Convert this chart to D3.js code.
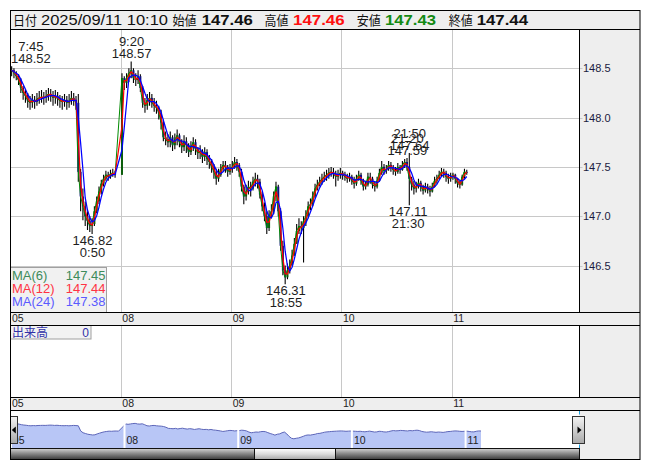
<!DOCTYPE html>
<html><head><meta charset="utf-8">
<script src="https://cdn.jsdelivr.net/npm/d3@7"></script>
<style>
html,body{margin:0;padding:0;background:#fff;}
svg{display:block;}
text{font-family:"Liberation Sans",Arial,sans-serif;}
.jp{font-family:"Noto Sans CJK JP","Noto Sans",sans-serif;}
</style></head><body>
<svg id="c" width="653" height="470"></svg>
<script>
// ---------------- DATA ----------------
const days = ["05","08","09","10","11"];
const barsPerDay = 48;          // 30-minute bars starting at 07:00
const barMinutes = 30, baseMinutes = 5;

const close05 = [148.48,148.45,148.42,148.38,148.30,148.25,148.22,148.17,148.15,148.18,148.16,148.19,148.20,148.21,148.20,148.22,148.24,148.23,148.20,148.22,148.19,148.17,148.16,148.18,148.15,148.17,148.20,148.18,148.15,147.45,147.20,147.10,147.00,146.95,146.90,146.92,147.05,147.15,147.25,147.33,147.38,147.42,147.40,147.43,147.44,147.42];
const high05  = [148.52,148.50,148.47,148.44,148.40,148.32,148.28,148.25,148.22,148.24,148.22,148.25,148.27,148.28,148.26,148.28,148.30,148.29,148.27,148.28,148.26,148.23,148.22,148.24,148.22,148.24,148.27,148.25,148.22,148.24,147.48,147.28,147.15,147.05,147.00,146.98,147.10,147.20,147.30,147.37,147.42,147.46,147.45,147.47,147.48,147.46];
const low05   = [148.42,148.40,148.38,148.33,148.25,148.18,148.15,148.10,148.08,148.10,148.09,148.12,148.14,148.15,148.13,148.15,148.17,148.16,148.12,148.14,148.12,148.10,148.08,148.11,148.08,148.10,148.13,148.12,148.08,147.35,147.05,146.96,146.90,146.86,146.84,146.82,146.90,147.03,147.12,147.22,147.30,147.36,147.36,147.38,147.40,147.39];

const close08 = [148.40,148.35,148.40,148.45,148.48,148.40,148.38,148.42,148.30,148.15,148.12,148.18,148.20,148.15,148.12,148.10,148.05,147.95,147.80,147.78,147.75,147.80,147.72,147.78,147.82,147.75,147.70,147.76,147.72,147.65,147.70,147.75,147.68,147.64,147.66,147.60,147.65,147.58,147.55,147.50,147.45,147.38,147.42,147.48,147.52,147.50,147.45,147.48];
const high08  = [148.45,148.42,148.45,148.50,148.57,148.50,148.45,148.48,148.44,148.32,148.20,148.24,148.26,148.24,148.20,148.17,148.12,148.08,147.98,147.86,147.83,147.86,147.82,147.84,147.88,147.84,147.78,147.82,147.80,147.74,147.76,147.80,147.78,147.70,147.72,147.68,147.70,147.68,147.62,147.58,147.53,147.48,147.48,147.53,147.56,147.56,147.52,147.53];
const low08   = [147.42,148.28,148.30,148.36,148.40,148.35,148.32,148.34,148.26,148.10,148.05,148.08,148.12,148.10,148.06,148.04,147.98,147.88,147.76,147.72,147.70,147.70,147.66,147.68,147.72,147.70,147.64,147.66,147.64,147.60,147.62,147.66,147.62,147.58,147.58,147.54,147.56,147.52,147.48,147.44,147.38,147.32,147.35,147.40,147.45,147.44,147.40,147.42];

const close09 = [147.50,147.55,147.52,147.45,147.30,147.20,147.25,147.30,147.28,147.35,147.38,147.35,147.22,147.10,147.00,146.88,147.00,147.05,147.20,147.30,147.05,146.70,146.45,146.38,146.45,146.50,146.60,146.72,146.85,146.90,146.88,146.95,147.00,147.10,147.12,147.20,147.28,147.32,147.35,147.38,147.40,147.42,147.44,147.45,147.43,147.40,147.42,147.44];
const high09  = [147.56,147.60,147.58,147.54,147.48,147.32,147.32,147.36,147.35,147.40,147.44,147.42,147.38,147.25,147.14,147.05,147.06,147.12,147.25,147.35,147.32,147.08,146.75,146.50,146.52,146.56,146.66,146.78,146.92,146.98,146.95,147.00,147.06,147.15,147.18,147.25,147.33,147.37,147.40,147.43,147.45,147.47,147.49,147.50,147.49,147.46,147.47,147.49];
const low09   = [147.44,147.48,147.46,147.40,147.25,147.12,147.16,147.22,147.20,147.26,147.30,147.28,147.18,147.05,146.95,146.82,146.85,146.98,147.02,147.15,147.00,146.65,146.40,146.31,146.36,146.42,146.52,146.62,146.72,146.82,146.82,146.53,146.90,146.98,147.06,147.10,147.18,147.26,147.30,147.32,147.35,147.36,147.38,147.40,147.38,147.30,147.36,147.38];

const close10 = [147.42,147.40,147.38,147.40,147.36,147.33,147.38,147.42,147.36,147.30,147.32,147.40,147.38,147.32,147.30,147.36,147.44,147.50,147.46,147.48,147.52,147.50,147.47,147.45,147.50,147.47,147.52,147.55,147.50,147.38,147.32,147.28,147.30,147.34,147.30,147.26,147.30,147.28,147.25,147.30,147.36,147.38,147.42,147.45,147.44,147.40,147.38,147.40];
const high10  = [147.46,147.45,147.43,147.44,147.42,147.40,147.42,147.46,147.44,147.38,147.36,147.44,147.44,147.40,147.35,147.40,147.48,147.56,147.53,147.52,147.56,147.55,147.52,147.50,147.54,147.52,147.56,147.58,147.59,147.64,147.40,147.36,147.35,147.38,147.36,147.32,147.34,147.33,147.31,147.34,147.40,147.42,147.46,147.49,147.48,147.46,147.43,147.44];
const low10   = [147.37,147.36,147.34,147.35,147.32,147.28,147.31,147.36,147.32,147.26,147.27,147.30,147.33,147.28,147.25,147.28,147.35,147.42,147.42,147.43,147.46,147.45,147.42,147.41,147.43,147.43,147.46,147.49,147.46,147.11,147.26,147.22,147.24,147.28,147.25,147.22,147.24,147.23,147.20,147.24,147.29,147.33,147.37,147.40,147.39,147.35,147.33,147.35];

const close11 = [147.42,147.38,147.33,147.32,147.40,147.45,147.44];
const high11  = [147.44,147.43,147.39,147.36,147.42,147.48,147.47];
const low11   = [147.37,147.33,147.29,147.28,147.31,147.38,147.42];

const yTicks = [146.5,147.0,147.5,148.0,148.5];

const maPeriods = [6,12,24];
const maNames = ["MA(6)","MA(12)","MA(24)"];
const maValues = ["147.45","147.44","147.38"];

const headerLabels = ["日付","始値","高値","安値","終値"];
const headerValues = ["2025/09/11 10:10","147.46","147.46","147.43","147.44"];

const annTimes  = ["7:45","0:50","9:20","18:55","21:50","21:20","21:30"];
const annPrices = [148.52,146.82,148.57,146.31,147.64,147.59,147.11];
const annDays   = [0,0,1,2,3,3,3];
const annKinds  = ["high","low","high","low","high","high","low"];

const volumeLabel = "出来高", volumeValue = "0";

// ---------------- LAYOUT / STYLE ----------------
const L=10.5, R=640.5, SEP=579.5;
const yHeadT=10.5, yHeadB=29.5, yMainB=312.5, yStrip1B=325.5, yVolB=397.5, yStrip2B=410.5, yScrollT=448.5, yAllB=459.5;
const dayW = 110.33, navDayW = 113.7;
const maColors = ["#008a00","#ff0000","#0000ff"];
const maWidths = [1,1.25,1.25];
const maTextColors = ["#3d8b5a","#ff3344","#5a5aff"];
const gridC = "#c8c8c8", panelC = "#eeeeee";

const svg = d3.select("#c");
const defs = svg.append("defs");
defs.append("clipPath").attr("id","mainClip").append("rect").attr("x",L).attr("y",yHeadB).attr("width",SEP-L).attr("height",yMainB-yHeadB);
defs.append("clipPath").attr("id","navClip").append("rect").attr("x",L).attr("y",yStrip2B).attr("width",SEP-L).attr("height",yScrollT-yStrip2B);
function grad(id, stops){
  const g=defs.append("linearGradient").attr("id",id).attr("x1",0).attr("y1",0).attr("x2",0).attr("y2",1);
  stops.forEach(([o,c])=>g.append("stop").attr("offset",o).attr("stop-color",c));
}
grad("trackG",[[0,"#d4d4d4"],[0.45,"#8c8c8c"],[1,"#3a3a3a"]]);
grad("thumbG",[[0,"#ffffff"],[0.5,"#dcdcdc"],[1,"#a6a6a6"]]);
grad("btnG",[[0,"#f4f4f4"],[1,"#a8a8a8"]]);

// bars
const dayClose=[close05,close08,close09,close10,close11], dayHigh=[high05,high08,high09,high10,high11], dayLow=[low05,low08,low09,low10,low11];
const bars=[]; let prev=null;
days.forEach((d,di)=>{ dayClose[di].forEach((c,i)=>{ const o = prev===null? c : prev; bars.push({slot:di*barsPerDay+i,o,h:dayHigh[di][i],l:dayLow[di][i],c}); prev=c; }); });

const totalSlots = days.length*barsPerDay;
const x = d3.scaleLinear().domain([0,totalSlots]).range([L, L+days.length*dayW]);
const y = d3.scaleLinear().domain([146.5,148.5]).range([265.5,68.3]);
const xn = d3.scaleLinear().domain([0,totalSlots]).range([10.8, 10.8+days.length*navDayW]);
const yn = d3.scaleLinear().domain([146.31,148.57]).range([439.3,422.7]);

// ---------------- FRAME / PANELS ----------------
svg.append("rect").attr("x",0).attr("y",0).attr("width",653).attr("height",470).attr("fill","#fff");
svg.append("rect").attr("x",L).attr("y",yHeadT).attr("width",R-L-0.5).attr("height",yHeadB-yHeadT).attr("fill",panelC);
[[yHeadB,yMainB],[yStrip1B,yVolB],[yStrip2B,yAllB]].forEach(([a,b])=>svg.append("rect").attr("x",SEP).attr("y",a).attr("width",R-0.5-SEP).attr("height",b-a).attr("fill",panelC));
[[yMainB,yStrip1B],[yVolB,yStrip2B]].forEach(([a,b])=>svg.append("rect").attr("x",L).attr("y",a).attr("width",R-L-0.5).attr("height",b-a).attr("fill",panelC));

// grid main
const gGrid = svg.append("g");
yTicks.forEach(t=>{ const yy=Math.round(y(t))+0.5; gGrid.append("line").attr("x1",L).attr("x2",SEP+3).attr("y1",yy).attr("y2",yy).attr("stroke",gridC); });
for(let d=1; d<days.length; d++){
  const xx=Math.round(x(d*barsPerDay))+0.5;
  gGrid.append("line").attr("x1",xx).attr("x2",xx).attr("y1",yHeadB).attr("y2",yMainB).attr("stroke",gridC);
  gGrid.append("line").attr("x1",xx).attr("x2",xx).attr("y1",yStrip1B).attr("y2",yVolB).attr("stroke",gridC);
}
yTicks.forEach(t=>svg.append("text").attr("x",583).attr("y",y(t)+4).attr("font-size","11px").attr("fill","#1a1a40").text(t.toFixed(1)));

// candles
const gC = svg.append("g").attr("clip-path","url(#mainClip)");
bars.forEach(b=>{
  const cx = x(b.slot+0.5);
  const hi=Math.max(b.h,b.o,b.c), lo=Math.min(b.l,b.o,b.c);
  gC.append("line").attr("x1",cx).attr("x2",cx).attr("y1",y(hi)).attr("y2",y(lo)).attr("stroke","#000").attr("stroke-width",1.1);
  const up=b.c>=b.o;
  gC.append("rect").attr("x",cx-1).attr("width",2).attr("y",y(Math.max(b.o,b.c))).attr("height",Math.max(1,Math.abs(y(b.o)-y(b.c))))
    .attr("fill",up?"#0b5e0b":"#101080");
});
// moving averages
const maWin = maPeriods.map(p=>p*baseMinutes/barMinutes);
maWin.forEach((w,k)=>{
  const s = bars.map((b,j)=>({slot:b.slot, v:d3.mean(bars.slice(Math.max(0,j-w+1),j+1),q=>q.c)}));
  gC.append("path").datum(s).attr("fill","none").attr("stroke",maColors[k]).attr("stroke-width",maWidths[k])
    .attr("d",d3.line().x(d=>x(d.slot+0.5)).y(d=>y(d.v)));
});

// annotations
annTimes.forEach((t,i)=>{
  const [hh,mm]=t.split(":").map(Number); let h=hh+mm/60; if(h<7) h+=24;
  const slot = annDays[i]*barsPerDay + (h-7)*60/barMinutes;
  let cx = x(slot);
  const py = y(annPrices[i]);
  const g = svg.append("g").attr("font-size","13px").attr("fill","#1e1e1e").attr("text-anchor","middle");
  let pB, tB;
  if(annKinds[i]==="high"){ pB=py-3; tB=pB-12.5; } else { pB=py+11; tB=pB+12; }
  const t1=g.append("text").attr("y",tB).text(t);
  const t2=g.append("text").attr("y",pB).text(annPrices[i].toFixed(2));
  const w=Math.max(t1.node().getComputedTextLength(), t2.node().getComputedTextLength());
  cx=Math.max(cx, L+0.5+w/2);
  t1.attr("x",cx); t2.attr("x",cx);
});

// MA legend
svg.append("rect").attr("x",L).attr("y",267.5).attr("width",96).attr("height",yMainB-267.5).attr("fill","#eeeeee").attr("fill-opacity",0.85).attr("stroke","#a0a0a0");
maNames.forEach((n,k)=>{
  svg.append("text").attr("x",12).attr("y",279.5+k*13).attr("font-size","13px").attr("fill",maTextColors[k]).text(n);
  svg.append("text").attr("x",105.5).attr("y",279.5+k*13).attr("font-size","13px").attr("fill",maTextColors[k]).attr("text-anchor","end").text(maValues[k]);
});

// strip labels
days.forEach((d,i)=>{
  svg.append("text").attr("x",x(i*barsPerDay)+1.5).attr("y",321.5).attr("font-size","10.5px").attr("fill","#222").text(d);
  svg.append("text").attr("x",x(i*barsPerDay)+1.5).attr("y",406.5).attr("font-size","10.5px").attr("fill","#222").text(d);
});

// volume legend
svg.append("rect").attr("x",L).attr("y",yStrip1B).attr("width",80.5).attr("height",13.5).attr("fill","#f2f2f2").attr("stroke","#a0a0a0");
svg.append("text").attr("class","jp").attr("x",12).attr("y",336.5).attr("font-size","12px").attr("fill","#3030a8").text(volumeLabel);
svg.append("text").attr("x",89).attr("y",336.5).attr("font-size","12px").attr("fill","#3030a8").attr("text-anchor","end").text(volumeValue);

// navigator
const gN = svg.append("g").attr("clip-path","url(#navClip)");
gN.append("path").datum(bars).attr("fill","#b8c6f6")
  .attr("d",d3.area().x(b=>xn(b.slot+0.5)).y0(yScrollT).y1(b=>yn(b.c)));
gN.append("path").datum(bars).attr("fill","none").attr("stroke","#5d66b8").attr("stroke-width",1)
  .attr("d",d3.line().x(b=>xn(b.slot+0.5)).y(b=>yn(b.c)));
for(let d=1; d<days.length; d++){
  const xx=xn(d*barsPerDay);
  gN.append("line").attr("x1",xx).attr("x2",xx).attr("y1",yStrip2B).attr("y2",yScrollT).attr("stroke","#fff").attr("stroke-width",2);
}
days.forEach((d,i)=>svg.append("text").attr("x",xn(i*barsPerDay)+2).attr("y",444).attr("font-size","10.5px").attr("fill","#222").text(d));
[L,SEP].forEach(xx=>{
  svg.append("line").attr("x1",xx).attr("x2",xx).attr("y1",yStrip2B).attr("y2",yStrip2B+4).attr("stroke","#1aa0e0");
  svg.append("line").attr("x1",xx).attr("x2",xx).attr("y1",yScrollT-4).attr("y2",yScrollT).attr("stroke","#1aa0e0");
});
svg.append("rect").attr("x",L).attr("y",416.5).attr("width",7).attr("height",27).attr("fill","url(#btnG)").attr("stroke","#333");
svg.append("path").attr("d","M11.8,430 L15.8,426.5 L15.8,433.5 Z").attr("fill","#000");
svg.append("rect").attr("x",572.5).attr("y",416.5).attr("width",12).attr("height",27).attr("fill","url(#btnG)").attr("stroke","#333");
svg.append("path").attr("d","M581.5,430 L577.5,426.5 L577.5,433.5 Z").attr("fill","#000");
svg.append("rect").attr("x",L).attr("y",yScrollT).attr("width",SEP-L).attr("height",yAllB-yScrollT).attr("fill","url(#trackG)").attr("stroke","#111");
svg.append("rect").attr("x",254.5).attr("y",yScrollT).attr("width",81).attr("height",yAllB-yScrollT).attr("fill","url(#thumbG)").attr("stroke","#111");

// borders
const gB = svg.append("g").attr("stroke","#000").attr("stroke-width",1).attr("fill","none");
gB.append("rect").attr("x",L).attr("y",yHeadT).attr("width",R-0.5-L).attr("height",yAllB-yHeadT);
[yHeadB,yMainB,yStrip1B,yVolB,yStrip2B].forEach(yy=>gB.append("line").attr("x1",L).attr("x2",R-0.5).attr("y1",yy).attr("y2",yy));
[[yHeadB,yMainB],[yStrip1B,yVolB]].forEach(([a,b])=>gB.append("line").attr("x1",SEP).attr("x2",SEP).attr("y1",a).attr("y2",b));

// header text
const hLabX=[13,172.5,264.6,356.7,448.7];
const hValX=[41,201.7,293,385,476.7];
const hValW=[127,51,51.6,51,51.3];
const hValC=["#111","#111","#ff1010","#138a13","#111"];
headerLabels.forEach((l,i)=>{
  svg.append("text").attr("class","jp").attr("x",hLabX[i]).attr("y",25).attr("font-size","13px").attr("fill","#111")
    .attr("textLength",24).attr("lengthAdjust","spacingAndGlyphs").text(l);
  svg.append("text").attr("x",hValX[i]).attr("y",25).attr("font-size",i===0?"14px":"15px").attr("font-weight",i===0?"normal":"bold")
    .attr("fill",hValC[i]).attr("textLength",hValW[i]).attr("lengthAdjust","spacingAndGlyphs").text(headerValues[i]);
});
</script>
</body></html>
